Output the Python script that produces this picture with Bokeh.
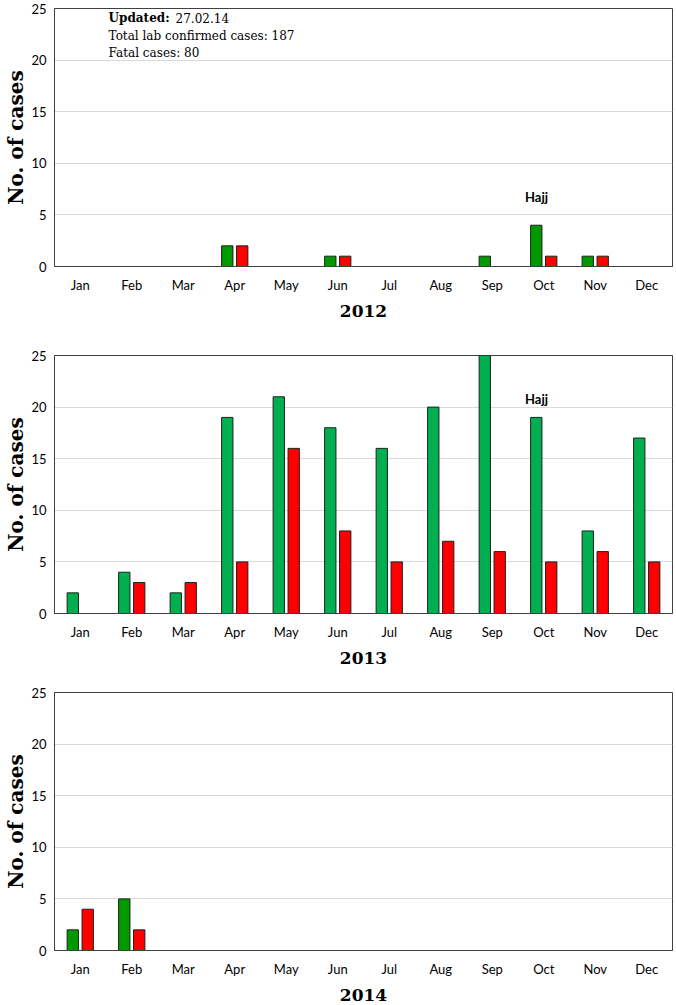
from bokeh.plotting import figure
from bokeh.layouts import column
from bokeh.models import ColumnDataSource, FixedTicker, Label, FactorRange
from bokeh.transform import dodge
from bokeh.embed import file_html
from bokeh.resources import INLINE

months = ["Jan", "Feb", "Mar", "Apr", "May", "Jun", "Jul", "Aug", "Sep", "Oct", "Nov", "Dec"]
cases_2012 = [0, 0, 0, 2, 0, 1, 0, 0, 1, 4, 1, 0]
fatal_2012 = [0, 0, 0, 2, 0, 1, 0, 0, 0, 1, 1, 0]
cases_2013 = [2, 4, 2, 19, 21, 18, 16, 20, 25, 19, 8, 17]
fatal_2013 = [0, 3, 3, 5, 16, 8, 5, 7, 6, 5, 6, 5]
cases_2014 = [2, 5, 0, 0, 0, 0, 0, 0, 0, 0, 0, 0]
fatal_2014 = [4, 2, 0, 0, 0, 0, 0, 0, 0, 0, 0, 0]
y_ticks = [0, 5, 10, 15, 20, 25]
info_lines = ["Total lab confirmed cases: 187", "Fatal cases: 80"]
updated_label = "Updated:"
updated_date = "27.02.14"

SERIF = "DejaVu Serif"
SANS = "Lato"


def nonzero(vals):
    m = [mo for mo, v in zip(months, vals) if v > 0]
    h = [v for v in vals if v > 0]
    return ColumnDataSource(dict(month=m, value=h))


def make_panel(year, cases, fatal, green, b_top, f_h, b_bot, hajj_y=None):
    p = figure(x_range=FactorRange(*months), y_range=(0, 25),
               frame_width=618, frame_height=f_h,
               min_border_left=54, min_border_right=2,
               min_border_top=b_top, min_border_bottom=b_bot,
               output_backend="svg", toolbar_location=None)
    p.background_fill_color = "white"
    p.border_fill_color = "white"
    p.outline_line_color = "#404040"
    p.outline_line_width = 1

    p.vbar(x=dodge("month", -0.145, range=p.x_range), top="value", width=0.22,
           source=nonzero(cases), fill_color=green, line_color="#1f1f1f", line_width=1)
    p.vbar(x=dodge("month", 0.145, range=p.x_range), top="value", width=0.22,
           source=nonzero(fatal), fill_color="#ff0000", line_color="#1f1f1f", line_width=1)

    p.xgrid.grid_line_color = None
    p.ygrid.grid_line_color = "#d9d9d9"
    p.ygrid.ticker = FixedTicker(ticks=y_ticks)

    p.yaxis.ticker = FixedTicker(ticks=y_ticks)
    p.yaxis.axis_line_color = "#404040"
    p.yaxis.major_tick_line_color = None
    p.yaxis.minor_tick_line_color = None
    p.yaxis.major_tick_out = 0
    p.yaxis.major_tick_in = 0
    p.yaxis.minor_tick_out = 0
    p.yaxis.major_label_text_font = SANS
    p.yaxis.major_label_text_font_size = "13px"
    p.yaxis.major_label_text_color = "#000000"
    p.yaxis.major_label_standoff = 8
    p.yaxis.axis_label = "No. of cases"
    p.yaxis.axis_label_text_font = SERIF
    p.yaxis.axis_label_text_font_style = "bold"
    p.yaxis.axis_label_text_font_size = "20px"
    p.yaxis.axis_label_text_color = "#000000"
    p.yaxis.axis_label_standoff = 0

    p.xaxis.axis_line_color = "#404040"
    p.xaxis.major_tick_line_color = None
    p.xaxis.minor_tick_line_color = None
    p.xaxis.major_tick_out = 0
    p.xaxis.major_tick_in = 0
    p.xaxis.minor_tick_out = 0
    p.xaxis.major_label_text_font = SANS
    p.xaxis.major_label_text_font_size = "13px"
    p.xaxis.major_label_text_color = "#000000"
    p.xaxis.major_label_standoff = 10
    p.xaxis.axis_label = year
    p.xaxis.axis_label_text_font = SERIF
    p.xaxis.axis_label_text_font_style = "bold"
    p.xaxis.axis_label_text_font_size = "17px"
    p.xaxis.axis_label_text_color = "#000000"
    p.xaxis.axis_label_standoff = 9

    if hajj_y is not None:
        p.add_layout(Label(x=9.36, y=hajj_y, text="Hajj", text_font=SANS,
                           text_font_style="bold", text_font_size="13px",
                           text_align="center", text_baseline="middle",
                           text_color="#000000"))
    return p


p1 = make_panel("2012", cases_2012, fatal_2012, "#009900", 8, 258, 75, hajj_y=6.7)
p2 = make_panel("2013", cases_2013, fatal_2013, "#00b050", 14, 258, 65, hajj_y=20.8)
p3 = make_panel("2014", cases_2014, fatal_2014, "#009900", 14, 258, 54)

p1.add_layout(Label(x=1.05, y=24.1, text=updated_label, text_font=SERIF,
                    text_font_style="bold", text_font_size="12px",
                    text_baseline="middle", text_color="#000000"))
p1.add_layout(Label(x=1.05, y=24.1, x_offset=67, text=updated_date, text_font=SERIF,
                    text_font_size="12px", text_baseline="middle", text_color="#000000"))
for i, line in enumerate(info_lines):
    p1.add_layout(Label(x=1.05, y=22.38 - 1.68 * i, text=line, text_font=SERIF,
                        text_font_size="12px", text_baseline="middle",
                        text_color="#000000"))

layout = column(p1, p2, p3, spacing=0)
open("out.html", "w").write(file_html(layout, INLINE))
